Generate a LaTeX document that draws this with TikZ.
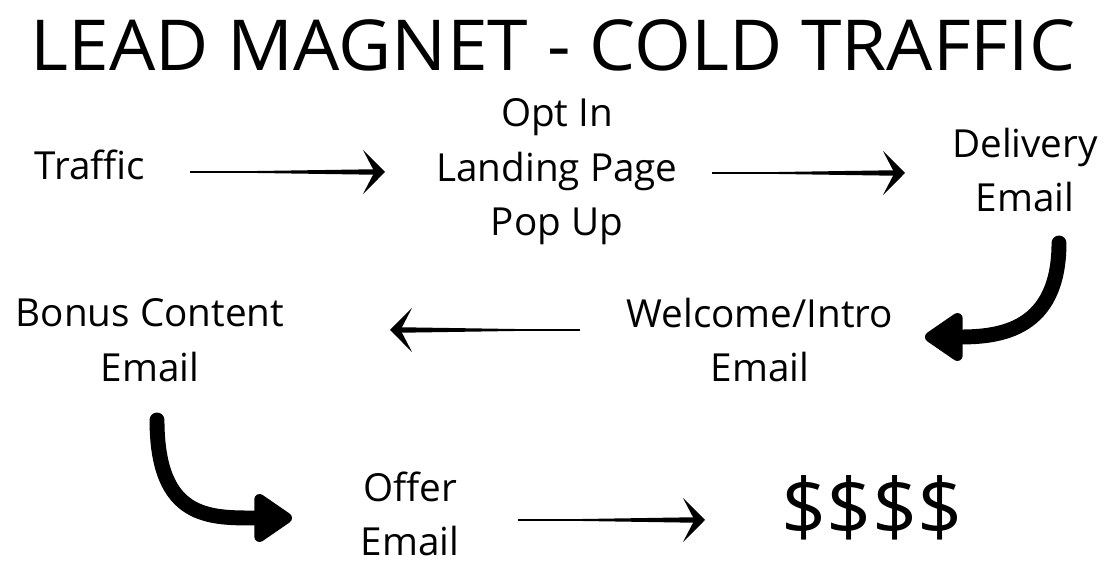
\documentclass[tikz,border=0pt]{standalone}
\usepackage{fontspec}
\setmainfont{Open Sans}
\usetikzlibrary{arrows.meta,calc}

\begin{document}
\begin{tikzpicture}[x=0.02cm,y=-0.02cm,
  every node/.style={font=\fontsize{22}{31}\selectfont,align=center,inner sep=0pt},
  title/.style={font=\fontsize{40}{48}\selectfont},
  money/.style={font=\fontsize{45}{54}\selectfont},
  arr/.style={-{Stealth[length=12.5pt,width=25pt,inset=6.5pt]},line width=0.8pt},
  curvearr/.style={-{Triangle[length=24pt,width=31pt,round]},line width=8.5pt,line cap=round}
]
  \useasboundingbox (0,0) rectangle (1107,563);
  \node[title,xscale=1.04] (head) at (553,45) {LEAD MAGNET - COLD TRAFFIC};
  \node (traffic) at (90,165) {Traffic};
  \node (optin) at (557,172) {Opt In\\Landing Page\\Pop Up};
  \node (delivery) at (1025,170) {Delivery\\Email};
  \node (welcome) at (760,340) {Welcome/Intro\\Email};
  \node (bonus) at (150,340) {Bonus Content\\Email};
  \node (offer) at (410,514) {Offer\\Email};
  \node[money] (cash) at (872,508) {\$\$\$\$};

  \fill ($(traffic)+(100,7)$) -- ($(optin)+(-178,2.8)$) -- ($(optin)+(-178,-2.8)$) -- cycle;
  \draw[arr] ($(traffic)+(100,7)$) -- ($(optin)+(-172,0)$);
  \fill ($(optin)+(155,1)$) -- ($(delivery)+(-126,5.8)$) -- ($(delivery)+(-126,0.2)$) -- cycle;
  \draw[arr] ($(optin)+(155,1)$) -- ($(delivery)+(-120,3)$);
  \fill ($(welcome)+(-180,-10)$) -- ($(bonus)+(246,-7.2)$) -- ($(bonus)+(246,-12.8)$) -- cycle;
  \draw[arr] ($(welcome)+(-180,-10)$) -- ($(bonus)+(240,-10)$);
  \fill ($(offer)+(108,6)$) -- ($(cash)+(-173,14.8)$) -- ($(cash)+(-173,9.2)$) -- cycle;
  \draw[arr] ($(offer)+(108,6)$) -- ($(cash)+(-167,12)$);

  \draw[curvearr] ($(delivery)+(34,73)$) .. controls ($(delivery)+(34,160)$) and ($(welcome)+(240,-3)$) .. ($(welcome)+(165,-3)$);
  \draw[curvearr] ($(bonus)+(7,80)$) .. controls ($(bonus)+(7,180)$) and ($(offer)+(-200,4)$) .. ($(offer)+(-118,4)$);
\end{tikzpicture}
\end{document}
